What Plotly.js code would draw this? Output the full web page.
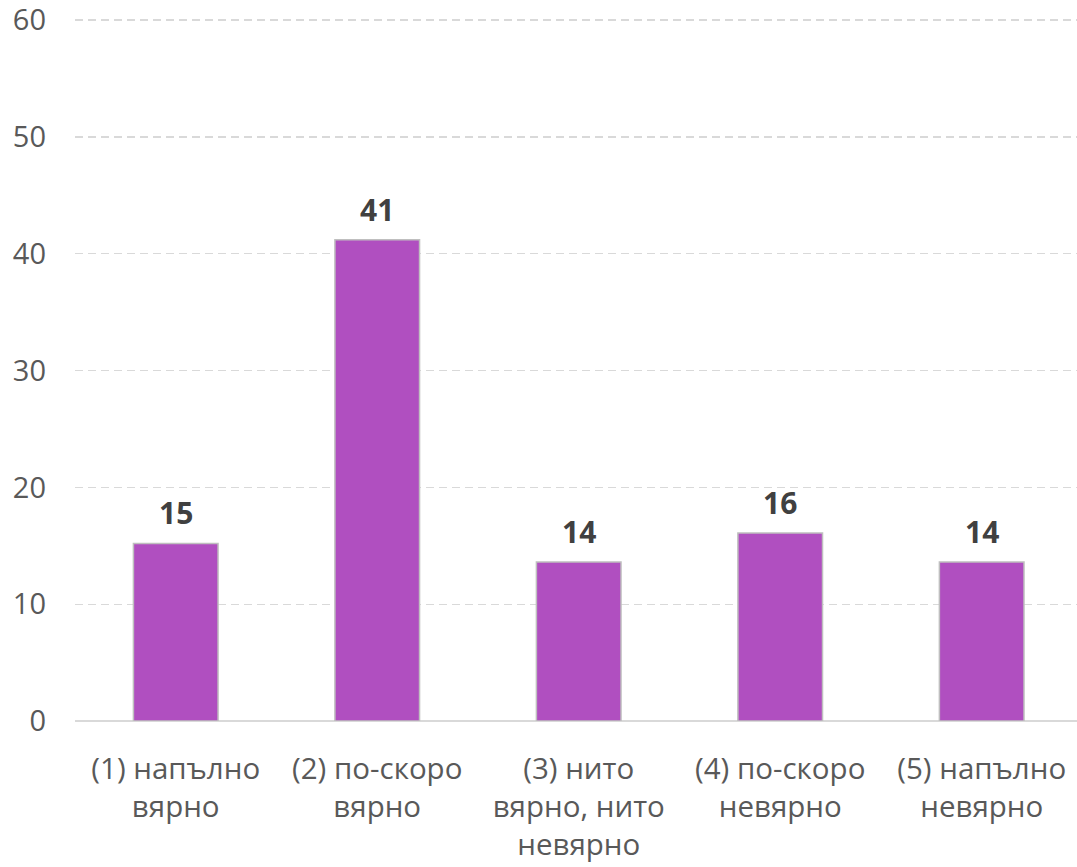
<!DOCTYPE html>
<html>
<head>
<meta charset="utf-8">
<script src="https://cdn.plot.ly/plotly-3.0.1.min.js"></script>
<style>html,body{margin:0;padding:0;background:#fff;}#chart{width:1077px;height:867px;}</style>
</head>
<body>
<div id="chart"></div>
<script>
var categories = [
  "(1) напълно<br>вярно",
  "(2) по-скоро<br>вярно",
  "(3) нито<br>вярно, нито<br>невярно",
  "(4) по-скоро<br>невярно",
  "(5) напълно<br>невярно"
];
var values = [15.2, 41.2, 13.6, 16.1, 13.6];
var labels = values.map(function(v){ return String(Math.round(v)); });
var yTicks = [0, 10, 20, 30, 40, 50, 60];

var FONT = "Open Sans, Calibri, Carlito, sans-serif";

var trace = {
  type: "bar",
  x: categories,
  y: values,
  marker: {color: "#B04FC0", line: {color: "#BFBFBF", width: 1.5}},
  hoverinfo: "none"
};

var annotations = categories.map(function(c, i){
  return {
    x: c, y: values[i], xref: "x", yref: "y",
    text: "<b>" + labels[i] + "</b>",
    showarrow: false, yanchor: "bottom", yshift: 8,
    font: {family: FONT, size: 30, color: "#404040"}
  };
});

var layout = {
  width: 1077, height: 867,
  margin: {l: 75, r: 0, t: 17, b: 146},
  paper_bgcolor: "#fff", plot_bgcolor: "#fff",
  showlegend: false,
  bargap: 0.58,
  font: {family: FONT, size: 29, color: "#595959"},
  xaxis: {
    range: [-0.5, 4.473],
    showgrid: false, zeroline: false, showline: false,
    ticks: "", ticklabelstandoff: 27,
    tickfont: {family: FONT, size: 29.5, color: "#595959"},
    fixedrange: true
  },
  yaxis: {
    range: [0, 60.26],
    tickvals: yTicks,
    ticktext: yTicks.map(String),
    showgrid: true, gridcolor: "#D9D9D9", griddash: "8px,5px", gridwidth: 1.3,
    zeroline: true, zerolinecolor: "#D9D9D9", zerolinewidth: 2,
    showline: false, ticks: "",
    ticklabelstandoff: 28,
    ticklabeloverflow: "allow",
    tickfont: {family: FONT, size: 29, color: "#595959"},
    fixedrange: true
  },
  annotations: annotations
};

Plotly.newPlot("chart", [trace], layout, {displayModeBar: false, staticPlot: true});
</script>
</body>
</html>
